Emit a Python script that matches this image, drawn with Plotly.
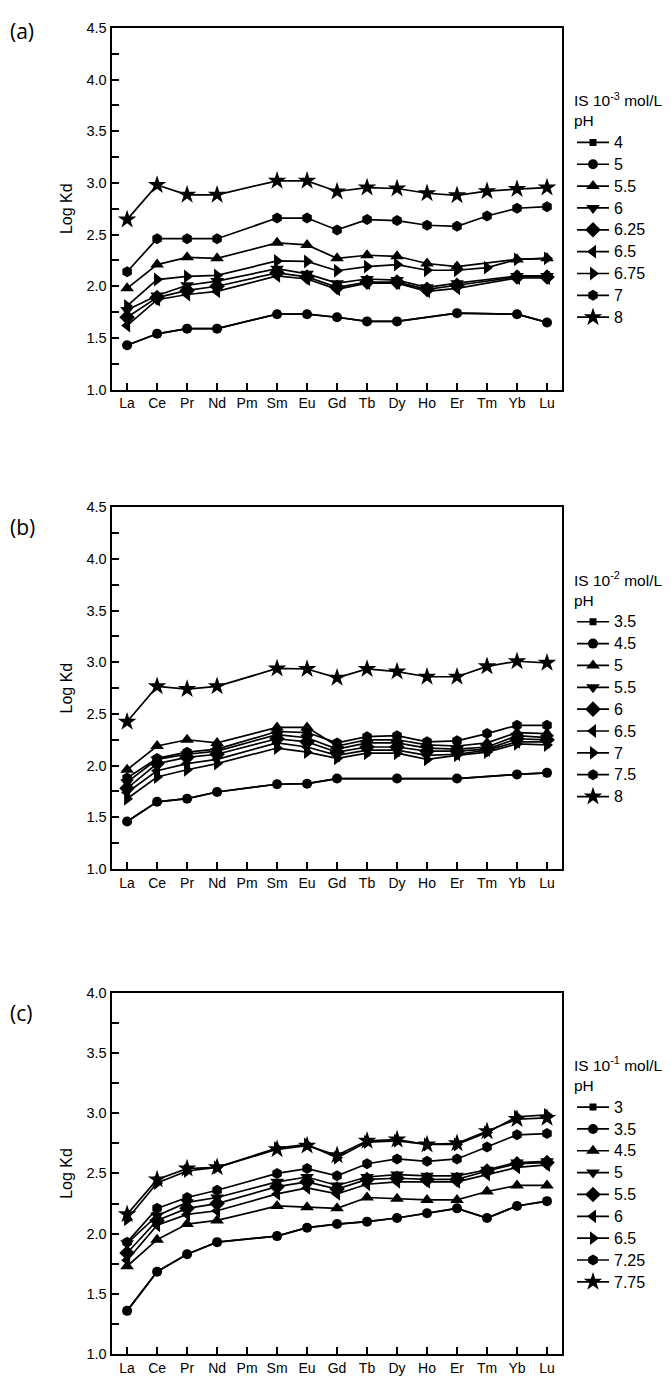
import plotly.graph_objects as go

elements = ["La", "Ce", "Pr", "Nd", "Pm", "Sm", "Eu", "Gd", "Tb", "Dy", "Ho", "Er", "Tm", "Yb", "Lu"]
N = None

# ---------------- panel (a): IS 10^-3 mol/L ----------------
a_pH = ["4", "5", "5.5", "6", "6.25", "6.5", "6.75", "7", "8"]
a_4    = [1.43, 1.54, 1.59, 1.59, N, 1.73, 1.73, 1.70, 1.66, 1.66, N, 1.74, N, 1.73, 1.65]
a_5    = [1.43, 1.54, 1.59, 1.59, N, 1.73, 1.73, 1.70, 1.66, 1.66, N, 1.74, N, 1.73, 1.65]
a_5_5  = [1.98, 2.21, 2.28, 2.27, N, 2.42, 2.40, 2.27, 2.30, 2.29, 2.22, 2.19, N, 2.26, 2.27]
a_6    = [1.77, 1.91, 2.01, 2.05, N, 2.17, 2.12, 2.03, 2.07, 2.06, 1.99, 2.03, N, 2.10, 2.10]
a_6_25 = [1.70, 1.89, 1.96, 2.00, N, 2.13, 2.09, 1.99, 2.04, 2.04, 1.97, 2.01, N, 2.09, 2.09]
a_6_5  = [1.62, 1.87, 1.92, 1.95, N, 2.10, 2.07, 1.97, 2.03, 2.03, 1.95, 1.98, N, 2.08, 2.08]
a_6_75 = [1.81, 2.065, 2.095, 2.105, N, 2.245, 2.24, 2.15, 2.19, 2.21, 2.155, 2.155, 2.18, 2.26, 2.27]
a_7    = [2.14, 2.46, 2.46, 2.46, N, 2.66, 2.66, 2.545, 2.645, 2.635, 2.59, 2.58, 2.68, 2.755, 2.77]
a_8    = [2.645, 2.98, 2.885, 2.885, N, 3.02, 3.02, 2.917, 2.955, 2.946, 2.90, 2.88, 2.92, 2.94, 2.955]

# ---------------- panel (b): IS 10^-2 mol/L ----------------
b_pH = ["3.5", "4.5", "5", "5.5", "6", "6.5", "7", "7.5", "8"]
b_3_5 = [1.46, 1.65, 1.68, 1.745, N, 1.82, 1.825, 1.875, N, 1.875, N, 1.875, N, 1.915, 1.93]
b_4_5 = [1.46, 1.65, 1.68, 1.745, N, 1.82, 1.825, 1.875, N, 1.875, N, 1.875, N, 1.915, 1.93]
b_5   = [1.96, 2.19, 2.25, 2.22, N, 2.37, 2.37, 2.19, 2.25, 2.25, 2.20, 2.19, 2.22, 2.32, 2.31]
b_5_5 = [1.84, 2.06, 2.11, 2.14, N, 2.30, 2.27, 2.16, 2.22, 2.22, 2.17, 2.16, 2.18, 2.29, 2.27]
b_6   = [1.78, 2.02, 2.08, 2.11, N, 2.26, 2.23, 2.13, 2.18, 2.18, 2.14, 2.14, 2.16, 2.26, 2.25]
b_6_5 = [1.74, 1.95, 2.02, 2.06, N, 2.22, 2.18, 2.10, 2.15, 2.15, 2.10, 2.11, 2.15, 2.23, 2.23]
b_7   = [1.68, 1.89, 1.96, 2.02, N, 2.17, 2.13, 2.07, 2.12, 2.12, 2.06, 2.10, 2.13, 2.21, 2.20]
b_7_5 = [1.88, 2.07, 2.13, 2.16, N, 2.33, 2.32, 2.22, 2.28, 2.29, 2.23, 2.24, 2.31, 2.39, 2.39]
b_8   = [2.424, 2.767, 2.74, 2.767, N, 2.94, 2.935, 2.85, 2.935, 2.91, 2.86, 2.86, 2.96, 3.01, 2.995]

# ---------------- panel (c): IS 10^-1 mol/L ----------------
c_pH = ["3", "3.5", "4.5", "5", "5.5", "6", "6.5", "7.25", "7.75"]
c_3    = [1.36, 1.685, 1.83, 1.93, N, 1.98, 2.05, 2.08, 2.10, 2.13, 2.17, 2.21, 2.13, 2.23, 2.27]
c_3_5  = [1.36, 1.685, 1.83, 1.93, N, 1.98, 2.05, 2.08, 2.10, 2.13, 2.17, 2.21, 2.13, 2.23, 2.27]
c_4_5  = [1.73, 1.95, 2.08, 2.11, N, 2.23, 2.22, 2.21, 2.30, 2.29, 2.28, 2.28, 2.35, 2.40, 2.40]
c_5    = [1.92, 2.15, 2.26, 2.30, N, 2.43, 2.47, 2.40, 2.47, 2.49, 2.48, 2.48, 2.53, 2.59, 2.60]
c_5_5  = [1.84, 2.11, 2.21, 2.25, N, 2.39, 2.43, 2.37, 2.45, 2.46, 2.45, 2.45, 2.52, 2.58, 2.59]
c_6    = [1.78, 2.07, 2.16, 2.19, N, 2.33, 2.38, 2.33, 2.41, 2.43, 2.43, 2.43, 2.49, 2.55, 2.57]
c_6_5  = [2.12, 2.42, 2.52, 2.55, N, 2.71, 2.74, 2.63, 2.76, 2.77, 2.74, 2.74, 2.84, 2.97, 2.985]
c_7_25 = [1.93, 2.21, 2.30, 2.36, N, 2.50, 2.54, 2.48, 2.58, 2.62, 2.60, 2.62, 2.72, 2.82, 2.83]
c_7_75 = [2.16, 2.45, 2.54, 2.55, N, 2.70, 2.73, 2.65, 2.77, 2.78, 2.74, 2.75, 2.85, 2.95, 2.96]

panels = [
    (a_pH, [a_4, a_5, a_5_5, a_6, a_6_25, a_6_5, a_6_75, a_7, a_8], "-3", [1.0, 4.5]),
    (b_pH, [b_3_5, b_4_5, b_5, b_5_5, b_6, b_6_5, b_7, b_7_5, b_8], "-2", [1.0, 4.5]),
    (c_pH, [c_3, c_3_5, c_4_5, c_5, c_5_5, c_6, c_6_5, c_7_25, c_7_75], "-1", [1.0, 4.0]),
]

symbols = ["square", "circle", "triangle-up", "triangle-down", "diamond",
           "triangle-left", "triangle-right", "hexagon", "star"]
msizes = [7, 10, 12, 12, 12, 12, 12, 11, 14]

W, H = 671, 1378
x0, x1 = 103.5, 554.0
tops = [12, 497, 988]
label_dy = [3, 20, 21]
PH = 366
FONT = "Liberation Sans, Arial, sans-serif"

fig = go.Figure()
layout = dict(width=W, height=H, margin=dict(l=0, r=0, t=0, b=0),
              paper_bgcolor="white", plot_bgcolor="white", showlegend=True,
              font=dict(family=FONT, size=14, color="black"))
annotations = []

for i, (labels, series, expo, yr) in enumerate(panels):
    k = "" if i == 0 else str(i + 1)
    top = tops[i]
    bot = top + PH
    leg = "legend" + k
    for j, (lab, vals) in enumerate(zip(labels, series)):
        fig.add_trace(go.Scatter(
            x=list(range(len(elements))), y=vals,
            name="<span style='font-size:16px'>" + lab + "</span>",
            mode="lines+markers",
            connectgaps=True, xaxis="x" + k, yaxis="y" + k, legend=leg,
            line=dict(color="black", width=1.7),
            marker=dict(symbol=symbols[j], size=msizes[j], color="black",
                        line=dict(color="black", width=0))))
    layout["xaxis" + k] = dict(
        domain=[x0 / W, x1 / W], anchor="y" + k, range=[-0.52, 14.5],
        tickmode="array", tickvals=list(range(len(elements))), ticktext=elements,
        ticks="inside", ticklen=7, tickwidth=1.5, tickcolor="black",
        showline=True, linecolor="black", linewidth=2, mirror=True,
        showgrid=False, zeroline=False, tickfont=dict(size=14, family=FONT))
    layout["yaxis" + k] = dict(
        domain=[1 - bot / H, 1 - top / H], anchor="x" + k, range=yr,
        tickmode="linear", tick0=1.0, dtick=0.5, tickformat=".1f",
        ticks="inside", ticklen=7, tickwidth=1.5, tickcolor="black",
        minor=dict(dtick=0.25, tick0=1.0, ticks="inside", ticklen=7, tickwidth=1.5, tickcolor="black"),
        showline=True, linecolor="black", linewidth=2, mirror=True,
        showgrid=False, zeroline=False, tickfont=dict(size=14.5, family=FONT),
        title=dict(text="Log Kd", font=dict(size=16, family=FONT), standoff=10))
    layout[leg] = dict(
        x=564 / W, y=1 - (top + 59) / H, xanchor="left", yanchor="top",
        bgcolor="rgba(0,0,0,0)", borderwidth=0, itemwidth=32,
        font=dict(size=14.5, family=FONT),
        title=dict(text="IS 10<sup>" + expo + "</sup> mol/L<br>pH", font=dict(size=15.5, family=FONT)),
        tracegroupgap=0)
    annotations.append(dict(text="(" + "abc"[i] + ")", xref="paper", yref="paper",
                            x=0.0, y=1 - (top + label_dy[i]) / H,
                            xanchor="left", yanchor="middle", showarrow=False,
                            font=dict(size=21, family="Open Sans, sans-serif")))

layout["annotations"] = annotations
fig.update_layout(**layout)
fig.write_html("out.html")
